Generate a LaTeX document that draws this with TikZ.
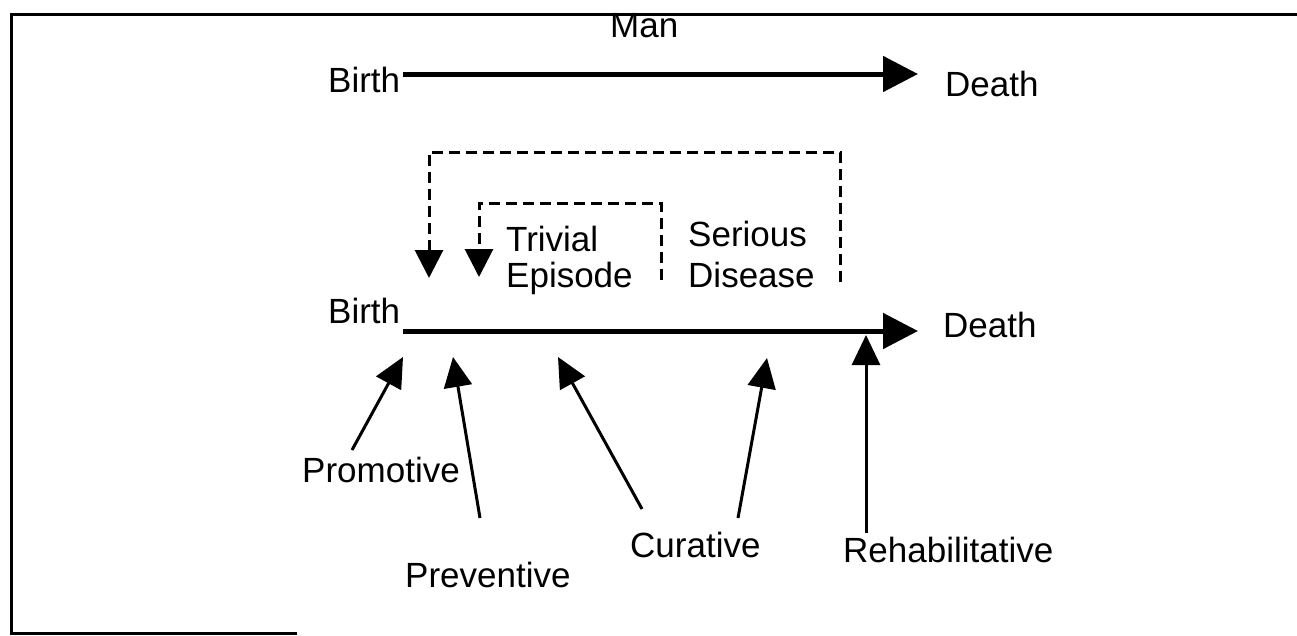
\documentclass[tikz,border=0pt]{standalone}
\usepackage{fontspec}
\setmainfont{Liberation Sans}
\usetikzlibrary{arrows.meta}
\begin{document}
\begin{tikzpicture}[x=1pt,y=-1pt,
  lbl/.style={inner sep=0pt,font=\fontsize{35}{36}\selectfont},
  frameline/.style={line width=3pt,line cap=rect},
  mainarrow/.style={line width=5pt,-{Triangle[length=35pt,width=35pt]}},
  uparrow/.style={line width=3pt,-{Triangle[length=30pt,width=28pt]}},
  dasharrow/.style={line width=3pt,dash pattern=on 11pt off 6pt,-{Triangle[length=28pt,width=28pt]}}]
\useasboundingbox (0,0) rectangle (1297,635);
% frame
\draw[frameline] (11,633) -- (11,14) -- (1297,14);
\draw[frameline] (11,633) -- (295,633);
% top row
\node[lbl,anchor=base west] (man) at (610,37) {Man};
\node[lbl,anchor=base west] (birthTop) at (328,92) {Birth};
\node[lbl,anchor=base west] (deathTop) at (945,96) {Death};
\coordinate (t1) at (403,74);
\coordinate (t2) at (918,74);
\draw[mainarrow] (t1) -- (t2);
% lower row
\node[lbl,anchor=base west] (birthLow) at (328,323) {Birth};
\node[lbl,anchor=base west] (deathLow) at (943,337) {Death};
\coordinate (l1) at (403,331);
\coordinate (l2) at (918,331);
\draw[mainarrow] (l1) -- (l2);
% episode labels
\node[lbl,anchor=north west,align=left] (trivial) at (506,226) {Trivial\\Episode};
\node[lbl,anchor=north west,align=left,font=\fontsize{35}{41}\selectfont] (serious) at (688,221) {Serious\\Disease};
% dashed feedback arrows
\coordinate (o1) at (840,282);
\coordinate (o2) at (429,278);
\draw[dasharrow] (o1) -- (840,152) -| (o2);
\coordinate (i1) at (661,280);
\coordinate (i2) at (479,277);
\draw[dasharrow] (i1) -- (661,203) -| (i2);
% bottom labels
\node[lbl,anchor=base west] (promotive) at (302,482) {Promotive};
\node[lbl,anchor=base west] (preventive) at (405,587) {Preventive};
\node[lbl,anchor=base west] (curative) at (630,557) {Curative};
\node[lbl,anchor=base west] (rehab) at (843,562) {Rehabilitative};
% upward arrows
\coordinate (p0) at (352,450); \coordinate (p1) at (403,357);
\coordinate (v0) at (480,518); \coordinate (v1) at (453,357);
\coordinate (c0) at (642,509); \coordinate (c1) at (558,357);
\coordinate (d0) at (738,518); \coordinate (d1) at (767,358);
\coordinate (r0) at (866,533); \coordinate (r1) at (866,335);
\draw[uparrow] (p0) -- (p1);
\draw[uparrow] (v0) -- (v1);
\draw[uparrow] (c0) -- (c1);
\draw[uparrow] (d0) -- (d1);
\draw[uparrow] (r0) -- (r1);
\end{tikzpicture}
\end{document}
